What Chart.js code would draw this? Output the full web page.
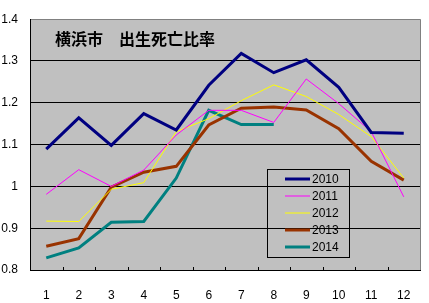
<!DOCTYPE html>
<html>
<head>
<meta charset="utf-8">
<script src="https://cdn.jsdelivr.net/npm/chart.js@4/dist/chart.umd.min.js"></script>
<style>
  html, body { margin: 0; padding: 0; background: #fff; }
  #wrap { width: 429px; height: 303px; }
</style>
</head>
<body>
<div id="wrap"><canvas id="ratioChart"></canvas></div>
<script>
// 月
const months = ['1', '2', '3', '4', '5', '6', '7', '8', '9', '10', '11', '12'];
// 出生死亡比率（年別）
const y2010 = [1.089, 1.164, 1.098, 1.174, 1.135, 1.242, 1.318, 1.272, 1.303, 1.237, 1.129, 1.127];
const y2011 = [0.981, 1.040, 1.000, 1.039, 1.123, 1.182, 1.182, 1.153, 1.257, 1.198, 1.131, 0.975];
const y2012 = [0.917, 0.916, 0.993, 1.009, 1.131, 1.162, 1.205, 1.243, 1.215, 1.172, 1.119, 1.020];
const y2013 = [0.857, 0.875, 0.998, 1.034, 1.048, 1.147, 1.187, 1.190, 1.183, 1.138, 1.060, 1.015];
const y2014 = [0.829, 0.853, 0.914, 0.916, 1.020, 1.182, 1.148, 1.148, null, null, null, null];
const yTicks = [0.8, 0.9, 1.0, 1.1, 1.2, 1.3, 1.4];

const FONT = '"Liberation Sans", Arial, sans-serif';

// 背景・枠・目盛り・タイトル・凡例
const excelLook = {
    id: 'excelLook',
    beforeDraw(chart) {
        const { ctx, chartArea: a } = chart;
        ctx.save();
        ctx.fillStyle = '#c0c0c0';
        ctx.fillRect(a.left, a.top, a.right - a.left, a.bottom - a.top);
        ctx.restore();
    },
    afterDraw(chart) {
        const { ctx, chartArea: a } = chart;
        ctx.save();
        // right border
        ctx.strokeStyle = '#808080';
        ctx.lineWidth = 1;
        ctx.beginPath();
        ctx.moveTo(a.right + 0.5, a.top);
        ctx.lineTo(a.right + 0.5, a.bottom);
        ctx.stroke();
        // inside tick marks on x axis
        ctx.strokeStyle = '#000';
        const step = (a.right - a.left) / months.length;
        for (let i = 1; i < months.length; i++) {
            const x = Math.round(a.left + i * step) + 0.5;
            ctx.beginPath();
            ctx.moveTo(x, a.bottom - 3);
            ctx.lineTo(x, a.bottom);
            ctx.stroke();
        }
        // title
        ctx.fillStyle = '#000';
        ctx.font = 'bold 16px "Noto Sans CJK JP", sans-serif';
        ctx.textBaseline = 'middle';
        ctx.textAlign = 'left';
        ctx.fillText('横浜市　出生死亡比率', a.left + 25, a.top + 20);
        // legend
        const lx = 267, ly = 169, lw = 82, lh = 88;
        ctx.strokeStyle = '#000';
        ctx.strokeRect(lx + 0.5, ly + 0.5, lw, lh);
        ctx.font = '12px ' + FONT;
        chart.data.datasets.forEach((ds, i) => {
            const y = ly + 10 + i * 17;
            ctx.strokeStyle = ds.borderColor;
            ctx.lineWidth = ds.borderWidth;
            ctx.beginPath();
            ctx.moveTo(lx + 18, y);
            ctx.lineTo(lx + 43, y);
            ctx.stroke();
            ctx.fillStyle = '#000';
            ctx.fillText(ds.label, lx + 45, y + 1);
        });
        ctx.restore();
    }
};

const ctx = document.getElementById('ratioChart').getContext('2d');
new Chart(ctx, {
    type: 'line',
    data: {
        labels: months,
        datasets: [
            { label: '2010', data: y2010, borderColor: '#000080', borderWidth: 3 },
            { label: '2011', data: y2011, borderColor: '#ff00ff', borderWidth: 1 },
            { label: '2012', data: y2012, borderColor: '#ffff00', borderWidth: 1 },
            { label: '2013', data: y2013, borderColor: '#993300', borderWidth: 3 },
            { label: '2014', data: y2014, borderColor: '#008080', borderWidth: 3 }
        ]
    },
    options: {
        responsive: true,
        maintainAspectRatio: false,
        animation: false,
        elements: {
            point: { radius: 0, hoverRadius: 0 },
            line: { tension: 0, borderJoinStyle: 'miter', fill: false }
        },
        layout: { padding: { top: 16, right: 9, left: 0, bottom: 0 } },
        scales: {
            x: {
                offset: true,
                grid: { display: false },
                border: { color: '#000', width: 1 },
                ticks: { color: '#000', font: { family: FONT, size: 12 }, padding: 10, maxRotation: 0 },
                afterFit(scale) { scale.height = 33; }
            },
            y: {
                min: 0.8,
                max: 1.4,
                afterBuildTicks(scale) { scale.ticks = yTicks.map(v => ({ value: v })); },
                grid: {
                    color: c => (c.tick && c.tick.value === 1.4 ? '#808080' : '#000'),
                    drawTicks: false
                },
                border: { color: '#000', width: 1 },
                ticks: {
                    color: '#000',
                    font: { family: FONT, size: 12 },
                    padding: 12,
                    callback: v => String(Math.round(v * 10) / 10)
                },
                afterFit(scale) { scale.width = 30; }
            }
        },
        plugins: {
            legend: { display: false },
            title: { display: false },
            tooltip: { enabled: false }
        }
    },
    plugins: [excelLook]
});
</script>
</body>
</html>
